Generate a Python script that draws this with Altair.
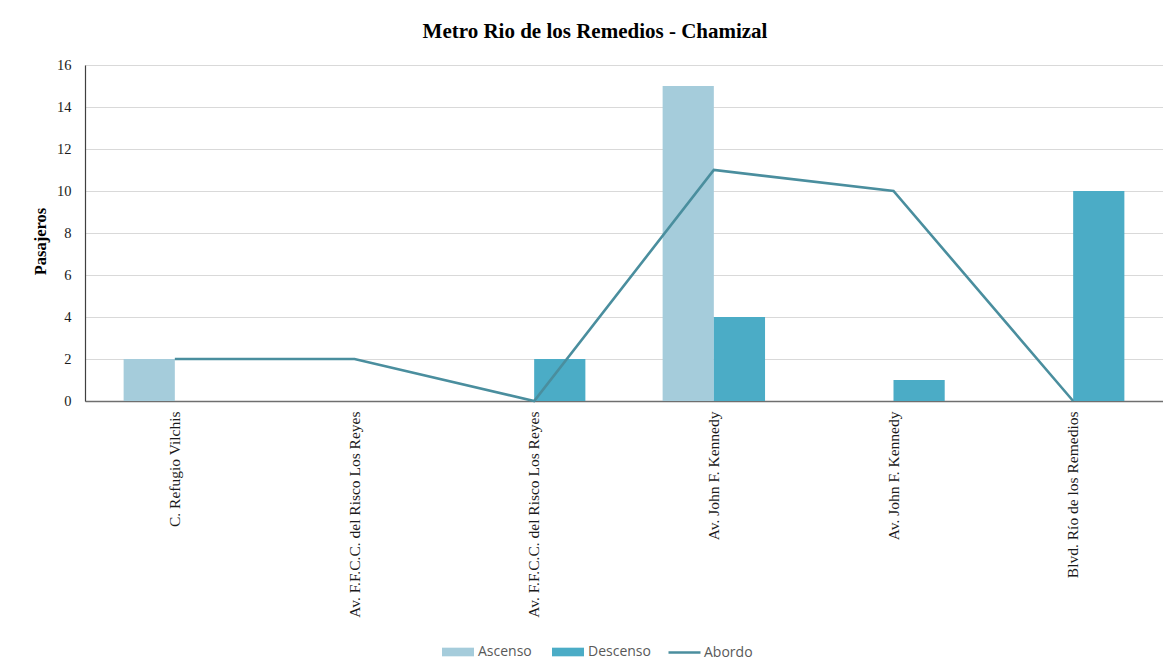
import json
import altair as alt
import pandas as pd

categorias = [
    "C. Refugio Vilchis",
    "Av. F.F.C.C. del Risco Los Reyes",
    "Av. F.F.C.C. del Risco Los Reyes",
    "Av. John F. Kennedy",
    "Av. John F. Kennedy",
    "Blvd. Río de los Remedios",
]
ascenso = [2, 0, 0, 15, 0, 0]
descenso = [0, 0, 2, 4, 1, 10]
abordo = [2, 2, 0, 11, 10, 0]
series_barras = ["Ascenso", "Descenso"]
colores_barras = ["#A5CCDB", "#4BACC6"]
color_linea = "#4A8E9E"
y_ticks = [0, 2, 4, 6, 8, 10, 12, 14, 16]

bars_df = pd.DataFrame(
    [{"k": i, "serie": "Ascenso", "valor": v} for i, v in enumerate(ascenso)]
    + [{"k": i, "serie": "Descenso", "valor": v} for i, v in enumerate(descenso)]
)
line_df = pd.DataFrame({"k": list(range(len(categorias))), "Abordo": abordo, "serie": "Abordo"})

label_expr = json.dumps(categorias, ensure_ascii=False) + "[datum.value]"

serif = "Liberation Serif"

x_enc = alt.X(
    "k:O",
    title=None,
    scale=alt.Scale(paddingInner=0.43, paddingOuter=0.215),
    axis=alt.Axis(
        labelExpr=label_expr,
        labelAngle=270,
        labelAlign="right",
        labelBaseline="middle",
        labelFont=serif,
        labelFontSize=15.5,
        labelColor="#1a1a1a",
        labelPadding=10,
        ticks=False,
        domainColor="#6f6f6f",
        domainWidth=1.5,
        grid=False,
        labelLimit=400,
    ),
)

y_enc_axis = alt.Axis(
    values=y_ticks,
    title="Pasajeros",
    titleFont=serif,
    titleFontSize=16.5,
    titleFontWeight="bold",
    titleColor="#000000",
    titleAngle=270,
    titleAlign="center",
    titleBaseline="middle",
    titleX=-45,
    titleY=176,
    labelFont=serif,
    labelFontSize=14.5,
    labelColor="#1a1a1a",
    labelPadding=14,
    ticks=False,
    domainColor="#404040",
    domainWidth=1.2,
    gridColor="#D9D9D9",
    gridWidth=1,
)

bars = alt.Chart(bars_df).mark_bar().encode(
    x=x_enc,
    xOffset=alt.XOffset("serie:N", scale=alt.Scale(domain=series_barras, paddingInner=0, paddingOuter=0)),
    y=alt.Y("valor:Q", scale=alt.Scale(domain=[0, 16]), axis=y_enc_axis),
    color=alt.Color(
        "serie:N",
        scale=alt.Scale(domain=series_barras, range=colores_barras),
        legend=alt.Legend(
            title=None,
            orient="none",
            direction="horizontal",
            legendX=357,
            legendY=571,
            symbolSize=1024,
            symbolType="M-1,-0.27H1V0.27H-1Z",
            symbolStrokeWidth=0,
            labelFont="Open Sans",
            labelFontSize=14,
            labelColor="#595959",
            labelOffset=4,
            columnPadding=20,
        ),
    ),
)

line = alt.Chart(line_df).mark_line(strokeWidth=2.6).encode(
    x=alt.X("k:O"),
    y=alt.Y("Abordo:Q"),
    stroke=alt.Stroke(
        "serie:N",
        scale=alt.Scale(domain=["Abordo"], range=[color_linea]),
        legend=alt.Legend(
            title=None,
            orient="none",
            direction="horizontal",
            legendX=582,
            legendY=570,
            symbolSize=1024,
            symbolType="stroke",
            symbolStrokeWidth=2.6,
            labelFont="Open Sans",
            labelFontSize=14,
            labelColor="#595959",
            labelOffset=2,
        ),
    ),
)

chart = (
    alt.layer(bars, line)
    .properties(
        width=1078,
        height=336,
        title=alt.TitleParams(
            "Metro Rio de los Remedios - Chamizal",
            font=serif,
            fontSize=21,
            fontWeight="bold",
            color="#000000",
            anchor="middle",
            dx=-29,
            offset=15,
        ),
        autosize=alt.AutoSizeParams(type="none"),
        padding={"left": 77, "top": 57, "right": 0, "bottom": 260},
    )
    .configure_view(stroke=None)
    .configure(background="#ffffff")
)

chart.save("out.html", embed_options={"renderer": "svg", "actions": False})
